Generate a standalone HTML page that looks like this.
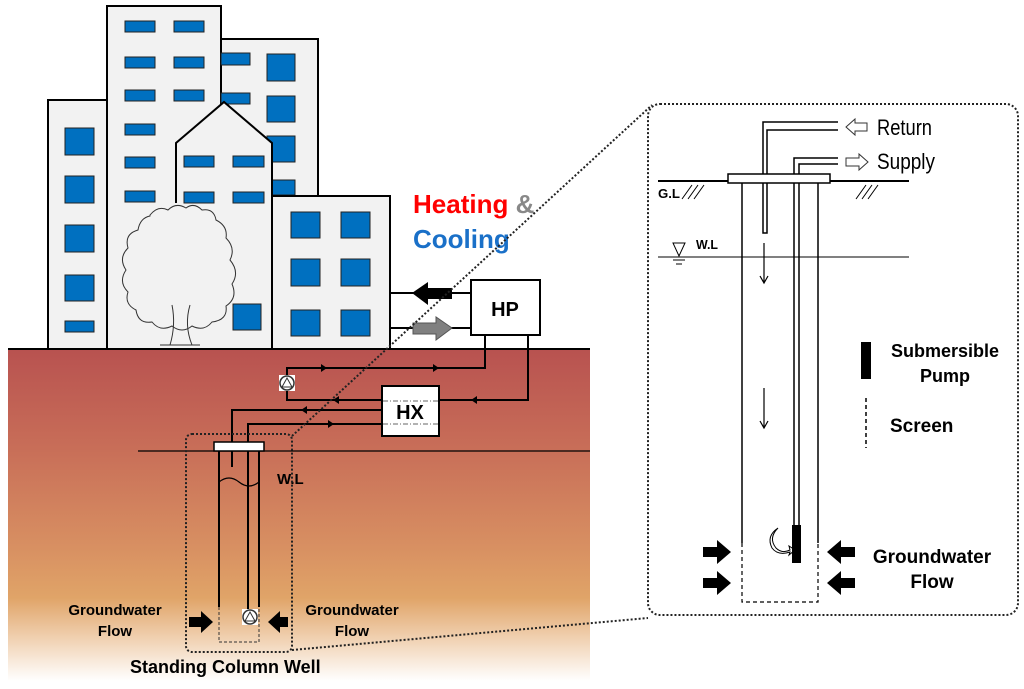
<!DOCTYPE html>
<html><head><meta charset="utf-8"><style>
html,body{margin:0;padding:0;background:#fff;width:1024px;height:689px;overflow:hidden}
text{font-family:"Liberation Sans",sans-serif}
</style></head><body>
<svg width="1024" height="689" viewBox="0 0 1024 689" xmlns="http://www.w3.org/2000/svg">
<defs>
<linearGradient id="g" x1="0" y1="0" x2="0" y2="1">
<stop offset="0" stop-color="#b85250"/>
<stop offset="0.3" stop-color="#c86e58"/>
<stop offset="0.6" stop-color="#d89062"/>
<stop offset="0.75" stop-color="#e0a468"/>
<stop offset="0.87" stop-color="#f0d0b0"/>
<stop offset="1" stop-color="#ffffff"/>
</linearGradient>
<marker id="ar" viewBox="0 0 10 10" refX="5" refY="5" markerWidth="6" markerHeight="6" orient="auto"><path d="M0,0L10,5L0,10z" fill="#000"/></marker>
</defs>
<!-- ground -->
<rect x="8" y="349" width="582" height="332" fill="url(#g)"/>
<!-- buildings -->
<g stroke="#000" stroke-width="2" fill="#f2f2f2">
<rect x="221" y="39" width="97" height="310"/>
<rect x="48" y="100" width="59" height="249"/>
<rect x="107" y="6" width="114" height="343"/>
</g>
<g fill="#0070c0" stroke="#222" stroke-width="1">
<rect x="65" y="128" width="29" height="27"/><rect x="65" y="176" width="29" height="27"/><rect x="65" y="225" width="29" height="27"/><rect x="65" y="275" width="29" height="26"/><rect x="65" y="321" width="29" height="11"/>
<rect x="125" y="21" width="30" height="11"/><rect x="174" y="21" width="30" height="11"/>
<rect x="125" y="57" width="30" height="11"/><rect x="174" y="57" width="30" height="11"/>
<rect x="125" y="90" width="30" height="11"/><rect x="174" y="90" width="30" height="11"/>
<rect x="125" y="124" width="30" height="11"/>
<rect x="125" y="157" width="30" height="11"/>
<rect x="125" y="191" width="30" height="11"/>
<rect x="221" y="53" width="29" height="12"/><rect x="221" y="93" width="29" height="11"/>
<rect x="267" y="54" width="28" height="27"/><rect x="267" y="96" width="28" height="26"/><rect x="267" y="136" width="28" height="26"/><rect x="267" y="180" width="28" height="15"/>
</g>
<!-- house -->
<path d="M176,203 L176,143 L224,102 L272,143 L272,349" fill="#f2f2f2" stroke="#000" stroke-width="2"/>
<rect x="178" y="144" width="93" height="204" fill="#f2f2f2"/>
<g fill="#0070c0" stroke="#222" stroke-width="1">
<rect x="184" y="156" width="30" height="11"/><rect x="233" y="156" width="31" height="11"/>
<rect x="184" y="192" width="30" height="11"/><rect x="233" y="192" width="31" height="11"/>
<rect x="233" y="304" width="28" height="26"/>
</g>
<!-- tree -->
<path d="M150,215 q8,-10 18,-5 q8,-8 18,-2 q8,-6 16,2 q12,-2 14,10 q12,6 10,18 q10,10 4,22 q10,12 2,24 q6,14 -6,22 q2,14 -14,16 q-8,10 -20,4 q-10,8 -20,0 q-12,6 -20,-4 q-14,2 -16,-12 q-12,-6 -8,-18 q-10,-10 -2,-22 q-8,-12 2,-22 q-4,-14 10,-18 q2,-12 12,-14 z" fill="#f2f2f2" stroke="#333" stroke-width="1"/>
<path d="M172,305 q4,20 -2,40 M190,305 q-6,20 2,40 M160,345 h40" fill="none" stroke="#333" stroke-width="1"/>
<!-- short right building -->
<rect x="272" y="196" width="118" height="153" fill="#f2f2f2" stroke="#000" stroke-width="2"/>
<g fill="#0070c0" stroke="#222" stroke-width="1">
<rect x="291" y="212" width="29" height="26"/><rect x="341" y="212" width="29" height="26"/>
<rect x="291" y="259" width="29" height="27"/><rect x="341" y="259" width="29" height="27"/>
<rect x="291" y="310" width="29" height="26"/><rect x="341" y="310" width="29" height="26"/>
</g>
<line x1="8" y1="349" x2="590" y2="349" stroke="#000" stroke-width="2"/>
<!-- heating cooling -->
<text x="413" y="213" font-size="26" font-weight="bold" fill="#ff0000">Heating <tspan fill="#888">&amp;</tspan></text>
<text x="413" y="248" font-size="26" font-weight="bold" fill="#1a70c8">Cooling</text>
<!-- HP -->
<line x1="390" y1="293" x2="471" y2="293" stroke="#000" stroke-width="2"/>
<line x1="390" y1="328" x2="471" y2="328" stroke="#000" stroke-width="2"/>
<path d="M412,293 L428,282 L428,288 L452,288 L452,299 L428,299 L428,305 z" fill="#000"/>
<path d="M452,328 L436,317 L436,323 L413,323 L413,334 L436,334 L436,340 z" fill="#808080" stroke="#555"/>
<rect x="471" y="280" width="69" height="55" fill="#fff" stroke="#000" stroke-width="2"/>
<text x="505" y="316" font-size="20" font-weight="bold" text-anchor="middle">HP</text>
<!-- pipes -->
<g fill="none" stroke="#000" stroke-width="2">
<path d="M485,335 V368 H287 V376"/>
<path d="M287,390 V400 H382"/>
<path d="M528,335 V400 H439"/>
<path d="M382,410 H232 V467"/>
<path d="M382,424 H248 V609"/>
</g>
<g fill="#000">
<path d="M327,368 l-6,-4 v8z"/><path d="M439,368 l-6,-4 v8z"/>
<path d="M333,400 l6,-4 v8z"/><path d="M471,400 l6,-4 v8z"/>
<path d="M301,410 l6,-4 v8z"/><path d="M334,424 l-6,-4 v8z"/>
</g>
<rect x="279" y="375" width="16" height="16" fill="#fff"/>
<circle cx="287" cy="383" r="7" fill="#fff" stroke="#333" stroke-width="1.5"/><path d="M282,387 L287,378 L292,387z" fill="#fff" stroke="#333"/>
<rect x="382" y="386" width="57" height="50" fill="#fff" stroke="#000" stroke-width="2"/>
<line x1="383" y1="401" x2="438" y2="401" stroke="#666" stroke-dasharray="5,2,1,2"/>
<line x1="383" y1="424" x2="438" y2="424" stroke="#666" stroke-dasharray="5,2,1,2"/>
<text x="410" y="419" font-size="20" font-weight="bold" text-anchor="middle">HX</text>
<!-- well -->
<line x1="138" y1="451" x2="590" y2="451" stroke="#000" stroke-width="1.2"/>
<rect x="214" y="442" width="50" height="9" fill="#fff" stroke="#000" stroke-width="1.5"/>
<g stroke="#000" stroke-width="2"><line x1="219" y1="451" x2="219" y2="607"/><line x1="259" y1="451" x2="259" y2="607"/></g>
<path d="M219,607 V642 H259 V607" fill="none" stroke="#333" stroke-dasharray="3,2"/>
<path d="M219,482 q10,-8 20,0 t20,0" fill="none" stroke="#000" stroke-width="1.2"/>
<text x="277" y="484" font-size="15" font-weight="bold">W.L</text>
<rect x="242" y="609" width="16" height="16" fill="#fff"/>
<circle cx="250" cy="617" r="7" fill="#fff" stroke="#333" stroke-width="1.5"/><path d="M245,621 L250,612 L255,621z" fill="#fff" stroke="#333"/>
<path d="M189,617 h12 v-6 l12,11 l-12,11 v-6 h-12z" fill="#000"/>
<path d="M288,617 h-8 v-6 l-12,11 l12,11 v-6 h8z" fill="#000"/>
<text x="115" y="615" font-size="15" font-weight="bold" text-anchor="middle">Groundwater</text>
<text x="115" y="636" font-size="15" font-weight="bold" text-anchor="middle">Flow</text>
<text x="352" y="615" font-size="15" font-weight="bold" text-anchor="middle">Groundwater</text>
<text x="352" y="636" font-size="15" font-weight="bold" text-anchor="middle">Flow</text>
<rect x="186" y="434" width="106" height="218" rx="6" fill="none" stroke="#222" stroke-width="2" stroke-dasharray="2,2"/>
<text x="130" y="673" font-size="18" font-weight="bold">Standing Column Well</text>
<!-- connector dotted lines -->
<line x1="292" y1="436" x2="652" y2="105" stroke="#222" stroke-width="2" stroke-dasharray="2,2"/>
<line x1="292" y1="650" x2="648" y2="618" stroke="#222" stroke-width="2" stroke-dasharray="2,2"/>
<!-- right panel -->
<rect x="648" y="104" width="370" height="511" rx="12" fill="#fff" stroke="#222" stroke-width="2" stroke-dasharray="2,2"/>
<g stroke="#000" fill="none">
<line x1="658" y1="181" x2="909" y2="181" stroke-width="2"/>
<line x1="658" y1="257" x2="909" y2="257" stroke-width="1"/>
<path d="M838,122 H763 V233 H767 V130 H838" stroke-width="1.5"/>
<path d="M838,158 H794 V525 M838,164 H799 V525" stroke-width="1.5"/>
<line x1="742" y1="183" x2="742" y2="543" stroke-width="1.5"/>
<line x1="818" y1="183" x2="818" y2="543" stroke-width="1.5"/>
<path d="M742,543 V602 H818 V543" stroke-dasharray="4,3" stroke-width="1.2"/>
<path d="M682,199 l10,-14 M688,199 l10,-14 M694,199 l10,-14 M856,199 l10,-14 M862,199 l10,-14 M868,199 l10,-14" stroke-width="1"/>
<path d="M764,243 V282 M760,276 l4,7 l4,-7 M764,388 V427 M760,421 l4,7 l4,-7" stroke-width="1.2"/>
<path d="M866,398 V448" stroke-dasharray="4,3" stroke-width="1.5"/>
<path d="M673,243 h12 l-6,13 z M673,260 h12 M676,264 h6" stroke-width="1"/>
<path d="M778,528 q-10,10 -2,20 q6,6 14,2 l-1,-4 l6,4 l-6,5 l1,-3 q-12,4 -18,-4 q-6,-12 6,-20 z" stroke-width="1" fill="#fff"/>
</g>
<rect x="728" y="174" width="102" height="9" fill="#fff" stroke="#000" stroke-width="1.5"/>
<rect x="792" y="525" width="9" height="38" fill="#000"/>
<path d="M846,127 l9,-8 v4 h12 v8 h-12 v4z" fill="#fff" stroke="#333"/>
<path d="M868,162 l-9,-8 v4 h-13 v8 h13 v4z" fill="#fff" stroke="#333"/>
<text x="877" y="135" font-size="22" textLength="55" lengthAdjust="spacingAndGlyphs">Return</text>
<text x="877" y="169" font-size="22" textLength="58" lengthAdjust="spacingAndGlyphs">Supply</text>
<text x="658" y="198" font-size="13" font-weight="bold" textLength="22" lengthAdjust="spacingAndGlyphs">G.L</text>
<text x="696" y="249" font-size="13" font-weight="bold" textLength="22" lengthAdjust="spacingAndGlyphs">W.L</text>
<path d="M703,547 h14 v-7 l14,12 l-14,12 v-7 h-14z M703,578 h14 v-7 l14,12 l-14,12 v-7 h-14z" fill="#000"/>
<path d="M855,547 h-14 v-7 l-14,12 l14,12 v-7 h14z M855,578 h-14 v-7 l-14,12 l14,12 v-7 h14z" fill="#000"/>
<text x="932" y="563" font-size="19" font-weight="bold" text-anchor="middle">Groundwater</text>
<text x="932" y="588" font-size="19" font-weight="bold" text-anchor="middle">Flow</text>
<rect x="861" y="342" width="10" height="37" fill="#000"/>
<text x="945" y="357" font-size="18" font-weight="bold" text-anchor="middle">Submersible</text>
<text x="945" y="382" font-size="18" font-weight="bold" text-anchor="middle">Pump</text>
<text x="890" y="432" font-size="19" font-weight="bold">Screen</text>
</svg>
</body></html>
